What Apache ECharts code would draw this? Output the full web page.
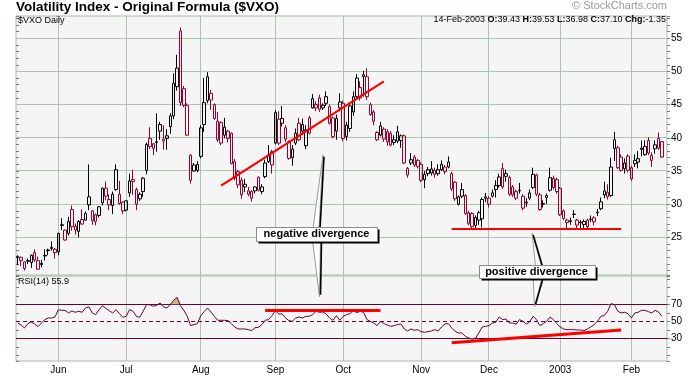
<!DOCTYPE html>
<html><head><meta charset="utf-8">
<script src="https://cdn.jsdelivr.net/npm/echarts@6/dist/echarts.min.js"></script>
<style>html,body{margin:0;padding:0;background:#fff}#c{width:700px;height:378px}</style>
</head><body><div id="c"></div>
<script>
// ---------------- DATA ----------------
const tradingDays = {
  '2002-05': [15,16,17,20,21,22,23,24,28,29,30,31],
  '2002-06': [3,4,5,6,7,10,11,12,13,14,17,18,19,20,21,24,25,26,27,28],
  '2002-07': [1,2,3,5,8,9,10,11,12,15,16,17,18,19,22,23,24,25,26,29,30,31],
  '2002-08': [1,2,5,6,7,8,9,12,13,14,15,16,19,20,21,22,23,26,27,28,29,30],
  '2002-09': [3,4,5,6,9,10,11,12,13,16,17,18,19,20,23,24,25,26,27,30],
  '2002-10': [1,2,3,4,7,8,9,10,11,14,15,16,17,18,21,22,23,24,25,28,29,30,31],
  '2002-11': [1,4,5,6,7,8,11,12,13,14,15,18,19,20,21,22,25,26,27,29],
  '2002-12': [2,3,4,5,6,9,10,11,12,13,16,17,18,19,20,23,24,26,27,30,31],
  '2003-01': [2,3,6,7,8,9,10,13,14,15,16,17,21,22,23,24,27,28,29,30,31],
  '2003-02': [3,4,5,6,7,10,11,12,13,14]
};
const monthLabels = ['Jun','Jul','Aug','Sep','Oct','Nov','Dec','2003','Feb'];

const opens = [
22.0,22.0,21.3,21.4,21.2,22.7,21.5,20.9,22.2,23.0,
23.5,23.2,22.8,26.8,26.1,25.6,29.2,26.7,25.9,27.7,
27.6,31.1,29.0,28.4,28.3,30.2,32.4,30.7,29.8,35.2,
31.5,30.3,29.1,31.7,33.7,32.2,30.8,31.9,35.1,39.9,
39.1,39.3,41.0,39.8,40.3,41.7,43.3,47.7,56.1,47.4,
44.9,37.4,35.9,36.0,37.2,42.0,45.6,46.7,45.0,42.5,
42.3,41.6,41.0,40.7,36.4,34.9,33.6,33.0,32.0,31.9,
32.0,34.05,31.9,34.15,37.4,37.9,39.2,42.8,42.9,41.5,
39.4,38.3,39.2,42.2,42.0,38.8,43.0,44.5,45.0,46.0,
44.9,46.2,44.7,43.0,41.0,45.4,45.2,40.2,41.4,43.9,
46.2,47.6,49.5,49.2,45.0,43.9,40.8,40.4,41.3,40.9,
40.7,39.7,40.9,40.3,40.3,34.4,36.2,37.1,36.6,36.0,
33.7,35.2,35.3,35.1,34.6,35.2,34.9,35.6,34.6,33.3,
30.0,32.2,31.3,28.7,28.6,28.0,27.6,27.8,31.1,30.9,
31.2,32.8,32.8,35.35,34.2,34.0,32.6,31.9,32.0,31.2,
30.2,30.9,32.5,34.4,31.4,30.0,31.0,32.1,33.9,33.7,
32.4,29.0,27.6,27.4,28.45,27.6,27.2,26.95,27.6,27.7,
27.95,28.7,29.3,31.4,31.8,31.3,38.4,38.5,37.1,35.35,
37.25,35.5,36.1,36.35,38.45,37.45,39.6,36.6,38.35,39.9,
39.43];
const highs = [
22.3,22.1,21.4,21.8,22.4,23.2,22.1,21.6,23.2,23.3,
24.4,23.4,25.7,27.9,26.2,28.1,29.8,27.1,27.6,29.2,
28.9,36.0,29.1,28.6,29.7,32.5,33.4,31.5,31.9,36.0,
33.5,30.4,30.6,34.6,35.2,32.5,31.8,34.1,39.3,41.6,
39.2,43.7,42.4,41.9,41.3,43.7,49.7,52.5,56.6,47.8,
45.2,37.5,36.2,36.5,41.9,49.0,49.9,47.2,45.2,43.9,
42.5,43.0,41.2,40.8,36.8,35.2,34.0,33.8,32.6,32.1,
32.7,34.2,33.0,36.7,38.9,38.2,44.2,44.0,44.8,41.9,
39.6,38.9,41.4,43.0,42.9,41.9,43.3,46.6,45.5,46.5,
45.2,47.0,45.0,43.2,43.5,46.7,45.6,42.4,45.3,47.0,
49.6,48.5,50.1,50.5,45.3,44.2,41.0,42.4,41.6,41.3,
41.0,40.4,41.8,40.5,40.5,35.6,37.7,37.4,36.8,36.3,
35.0,35.6,36.5,35.5,36.0,36.6,35.9,37.2,34.9,33.5,
31.3,33.2,31.5,29.0,28.8,28.3,29.0,31.0,31.7,31.2,
32.2,33.6,34.6,36.2,35.2,34.3,32.9,32.2,33.2,31.5,
30.9,32.2,35.5,34.6,31.7,30.6,31.6,35.5,34.3,34.0,
32.6,29.2,27.8,28.0,29.1,27.8,27.6,27.7,27.8,28.3,
28.2,29.3,31.0,33.4,33.0,37.0,40.9,38.8,37.5,36.9,
37.5,35.8,37.5,38.0,39.6,39.6,40.1,37.8,39.6,40.8,
39.53];
const lows = [
20.8,20.7,20.0,21.0,20.4,21.3,20.1,20.5,21.5,22.3,
23.0,21.8,22.3,26.1,24.5,25.3,26.0,25.4,25.0,26.9,
27.5,29.1,26.9,26.8,28.0,29.8,30.6,29.1,28.5,32.0,
29.9,28.5,28.9,31.1,31.4,29.1,30.5,31.1,34.5,38.3,
37.4,37.9,39.7,38.2,38.2,40.6,42.8,47.1,44.8,44.6,
40.3,33.1,34.9,34.8,36.9,40.9,45.2,44.2,42.7,39.4,
38.9,39.9,39.3,36.0,33.6,32.4,30.8,31.8,31.2,30.4,
31.6,31.9,31.5,33.9,36.2,34.6,39.0,38.9,41.7,39.4,
36.7,35.8,38.9,39.5,40.4,38.3,40.5,44.4,44.0,43.9,
44.2,44.8,42.0,39.9,39.7,44.0,39.5,39.6,40.9,43.3,
45.8,45.6,46.2,45.7,43.3,41.9,39.5,40.2,39.4,38.8,
38.7,38.9,39.2,38.5,36.0,34.0,35.9,35.6,35.4,33.3,
32.4,34.2,34.3,34.0,34.3,35.0,34.5,35.4,32.0,30.5,
29.8,30.9,28.4,26.8,26.3,26.3,26.9,26.5,30.3,29.5,
31.0,31.0,32.5,32.3,33.4,31.2,31.1,30.6,31.6,29.1,
29.6,30.6,32.3,31.2,29.0,29.5,30.0,31.9,32.2,31.6,
28.2,27.6,26.3,26.9,27.9,26.3,26.3,26.3,26.3,27.3,
26.8,28.2,29.1,30.9,30.7,31.1,36.5,35.3,34.9,34.6,
34.8,33.5,35.6,35.4,37.2,37.3,37.4,35.6,37.6,38.2,
36.98];
const closes = [
22.1,21.5,20.3,21.5,22.3,21.6,20.2,21.1,22.3,23.1,
23.3,22.7,25.6,26.9,24.6,27.4,26.6,26.1,27.4,27.0,
28.6,29.9,27.5,27.4,29.6,32.4,31.2,29.9,31.5,32.2,
30.1,29.0,30.5,33.5,33.4,30.0,31.5,33.9,39.0,38.7,
38.4,39.4,42.0,39.5,39.9,43.3,48.2,50.5,45.3,44.9,
40.4,33.6,35.0,35.1,41.5,45.3,49.2,45.7,42.9,39.7,
39.2,40.4,39.9,36.1,33.9,32.9,31.4,32.6,31.5,30.9,
32.6,32.1,32.6,36.2,36.4,35.9,43.8,39.2,42.2,39.8,
36.9,37.0,40.7,39.7,41.0,41.2,40.7,45.9,44.5,44.3,
44.5,45.2,42.2,40.2,42.9,44.5,39.9,41.9,44.8,46.2,
49.0,46.0,49.2,46.2,43.5,42.5,39.7,41.8,39.8,39.4,
38.9,39.3,39.5,39.6,36.2,35.4,36.7,35.9,35.7,33.6,
34.5,34.6,34.7,34.5,35.2,36.0,35.6,36.35,32.3,30.8,
31.1,31.2,28.6,27.05,26.6,26.8,28.7,30.7,30.9,30.0,
31.7,32.2,34.1,32.6,34.6,31.5,31.4,30.9,32.1,29.4,
30.3,31.7,34.5,31.5,29.2,30.1,31.3,34.0,32.5,31.9,
28.4,27.85,27.25,27.5,28.5,26.85,27.3,27.4,26.6,27.75,
27.35,28.8,30.35,32.0,31.1,35.6,39.7,35.5,35.1,36.2,
35.1,33.8,36.6,36.85,38.25,38.7,37.7,37.35,38.95,38.45,
37.10];
const rsi = [
48.0,45.7,42.2,47.3,49.2,46.9,43.7,48.0,52.0,53.9,
53.9,55.1,63.7,62.9,62.9,59.8,62.2,60.6,61.8,60.6,
65.7,66.9,59.8,57.8,63.7,68.4,65.3,62.5,59.8,63.7,
59.0,54.7,55.9,63.7,61.8,55.9,54.7,61.8,69.6,69.6,
67.6,68.8,71.6,66.9,65.7,69.6,74.7,78.2,68.4,62.9,
55.9,44.9,46.1,47.3,56.7,61.4,65.7,61.0,55.9,51.2,
51.2,51.2,50.8,47.3,43.3,41.0,41.0,41.0,40.2,39.0,
42.5,42.9,46.1,51.2,52.0,56.7,62.5,58.6,58.6,53.9,
50.8,50.0,53.9,55.1,53.9,55.9,55.9,57.8,61.8,60.6,
61.0,58.6,53.9,51.2,56.7,51.2,55.9,57.8,59.0,62.9,
60.2,61.8,60.6,52.0,50.0,48.0,44.9,50.0,47.3,45.7,
44.1,44.9,46.1,46.9,41.0,38.6,41.0,39.4,40.2,37.8,
37.1,37.8,38.6,40.2,38.6,43.3,46.9,47.3,42.2,38.2,
36.3,36.3,32.4,30.4,28.8,30.0,36.3,43.3,44.1,44.9,
48.0,48.8,55.1,52.0,52.7,48.0,48.0,46.5,52.0,50.0,
46.9,49.2,55.9,52.0,44.9,47.3,50.0,55.1,52.0,47.3,
43.3,41.0,40.2,40.2,40.2,39.8,39.8,39.0,41.0,43.3,
46.1,50.0,55.9,56.7,61.8,70.8,69.6,61.8,59.8,60.6,
59.0,53.9,59.8,60.6,62.9,62.9,61.4,59.8,62.9,61.0,
55.9];

const priceGridValues = [25,30,35,40,45,50,55];
const priceLabelValues = [25,30,35,40,45,50,55];
const rsiLevels = [30,50,70];
const rsiLabelValues = [30,50,70];
const rsiOverbought = 70, rsiOversold = 30;

// annotations (data coordinates: [day index, value])
const trendLine = [[60,32.8],[108,48.5]];
const supportLine = [[128,26.3],[178,26.3]];
const rsiNegLine = [[73,62.9],[107,62.9]];
const rsiPosLine = [[128,24.8],[178,39.8]];
const negCalloutAt = [88, 25.6];
const posCalloutAt = [153, 19.9];
const headerDate = '14-Feb-2003';

// ---------------- BUILD ----------------
const FONT = '"Liberation Sans", Arial, Helvetica, sans-serif';
const GRID_COLOR = '#abc6ab';
const BORDER = '#9fbd9f';
const PLOT_BG = '#f5f5f5';
const RED = '#990033';
const BLACK = '#000000';
const RSI_COLOR = '#660033';
const TICK = '#7a7a7a';

const categories = [];
const monthStarts = [];
Object.keys(tradingDays).forEach((m, k) => {
  tradingDays[m].forEach((d, j) => {
    if (j === 0 && k > 0) monthStarts.push(categories.length);
    categories.push(m + '-' + String(d).padStart(2, '0'));
  });
});
categories.push('');  // empty slot after last bar
const labelAt = {};
monthStarts.forEach((idx, k) => { labelAt[idx] = monthLabels[k]; });

const candleData = opens.map((o, i) => {
  const c = closes[i];
  const prev = i > 0 ? closes[i - 1] : c;
  const col = c >= prev ? BLACK : RED;
  return { value: [o, c, lows[i], highs[i]],
    itemStyle: { color: 'rgba(0,0,0,0)', color0: col, borderColor: col, borderColor0: col, borderWidth: 1 } };
});

const PRICE_MIN = 19.33, PRICE_MAX = 58.35;
const RSI_MIN = 3.3, RSI_MAX = 103.3;

function vLines(xi, yi, yv) {
  return { type: 'custom', xAxisIndex: xi, yAxisIndex: yi, silent: true, z: 1,
    data: monthStarts.map(i => [i, yv]), encode: { x: 0, y: 1 },
    renderItem: (params, api) => {
      const cs = params.coordSys;
      const x = Math.round(api.coord([api.value(0), api.value(1)])[0] - 0.5) + 0.5;
      return { type: 'line', shape: { x1: x, y1: cs.y, x2: x, y2: cs.y + cs.height },
        style: { stroke: GRID_COLOR, lineWidth: 1 } };
    } };
}
function hLines(xi, yi, values, styler) {
  return { type: 'custom', xAxisIndex: xi, yAxisIndex: yi, silent: true, z: 1,
    data: values.map(v => [0, v]), encode: { x: 0, y: 1 },
    renderItem: (params, api) => {
      const cs = params.coordSys;
      const y = Math.round(api.coord([0, api.value(1)])[1] - 0.5) + 0.5;
      return { type: 'line', shape: { x1: cs.x, y1: y, x2: cs.x + cs.width, y2: y },
        style: styler(api.value(1)) };
    } };
}

const valueAxisBase = { type: 'value', axisLine: { show: false }, splitLine: { show: false } };

const option = {
  animation: false,
  backgroundColor: '#ffffff',
  grid: [
    { left: 16, right: 33, top: 16, height: 259, show: true, backgroundColor: PLOT_BG,
      borderColor: BORDER, borderWidth: 1, containLabel: false, outerBoundsMode: 'none' },
    { left: 16, right: 33, top: 276, height: 85, show: true, backgroundColor: PLOT_BG,
      borderColor: BORDER, borderWidth: 1, containLabel: false, outerBoundsMode: 'none' }
  ],
  xAxis: [
    { type: 'category', gridIndex: 0, data: categories, boundaryGap: true,
      axisLine: { show: false }, axisTick: { show: false }, axisLabel: { show: false }, splitLine: { show: false } },
    { type: 'category', gridIndex: 1, data: categories, boundaryGap: true,
      axisLine: { show: false }, axisTick: { show: false }, splitLine: { show: false },
      axisLabel: { show: true, interval: (idx) => labelAt[idx] !== undefined,
        formatter: (val, idx) => labelAt[idx] || '', fontSize: 10, fontFamily: FONT, color: '#000', margin: 4 } }
  ],
  yAxis: [
    Object.assign({}, valueAxisBase, { gridIndex: 0, position: 'right', min: PRICE_MIN, max: PRICE_MAX,
      minInterval: 1, maxInterval: 1,
      axisTick: { show: true, length: 3, lineStyle: { color: TICK } },
      axisLabel: { show: true, margin: 4, fontSize: 10, fontFamily: FONT, color: '#000',
        formatter: v => priceLabelValues.indexOf(v) >= 0 ? String(v) : '' } }),
    Object.assign({}, valueAxisBase, { gridIndex: 0, position: 'left', min: PRICE_MIN, max: PRICE_MAX,
      minInterval: 1, maxInterval: 1,
      axisTick: { show: true, inside: true, length: 3, lineStyle: { color: TICK } },
      axisLabel: { show: false } }),
    Object.assign({}, valueAxisBase, { gridIndex: 1, position: 'right', min: RSI_MIN, max: RSI_MAX,
      minInterval: 10, maxInterval: 10,
      axisTick: { show: true, length: 3, lineStyle: { color: TICK } },
      axisLabel: { show: true, margin: 4, fontSize: 10, fontFamily: FONT, color: '#000',
        formatter: v => rsiLabelValues.indexOf(v) >= 0 ? String(v) : '' } }),
    Object.assign({}, valueAxisBase, { gridIndex: 1, position: 'left', min: RSI_MIN, max: RSI_MAX,
      minInterval: 10, maxInterval: 10,
      axisTick: { show: true, inside: true, length: 3, lineStyle: { color: TICK } },
      axisLabel: { show: false } })
  ],
  series: [
    vLines(0, 0, 30),
    hLines(0, 0, priceGridValues, () => ({ stroke: GRID_COLOR, lineWidth: 1 })),
    { type: 'candlestick', xAxisIndex: 0, yAxisIndex: 0, data: candleData, barWidth: 3, z: 3,
      markLine: { silent: true, symbol: ['none', 'none'], label: { show: false },
        lineStyle: { color: '#ff0000', width: 2.2, type: 'solid' },
        data: [
          [{ coord: trendLine[0] }, { coord: trendLine[1] }],
          [{ coord: supportLine[0] }, { coord: supportLine[1] }]
        ] } },
    vLines(1, 2, 50),
    hLines(1, 2, rsiLevels, v => ({ stroke: RSI_COLOR, lineWidth: 1, lineDash: v === 50 ? [4, 3] : null })),
    { type: 'line', xAxisIndex: 1, yAxisIndex: 2, z: 2, silent: true, symbol: 'none',
      data: rsi.map(v => Math.max(v, rsiOverbought)),
      lineStyle: { width: 0, opacity: 0 }, areaStyle: { color: '#c9b98e', opacity: 1, origin: rsiOverbought } },
    { type: 'line', xAxisIndex: 1, yAxisIndex: 2, z: 2, silent: true, symbol: 'none',
      data: rsi.map(v => Math.min(v, rsiOversold)),
      lineStyle: { width: 0, opacity: 0 }, areaStyle: { color: '#c9b98e', opacity: 1, origin: rsiOversold } },
    { type: 'line', xAxisIndex: 1, yAxisIndex: 2, z: 4, silent: true, symbol: 'none', data: rsi,
      lineStyle: { color: RSI_COLOR, width: 1 },
      markLine: { silent: true, symbol: ['none', 'none'], label: { show: false },
        lineStyle: { color: '#ff0000', width: 3, type: 'solid' },
        data: [
          [{ coord: rsiNegLine[0] }, { coord: rsiNegLine[1] }],
          [{ coord: rsiPosLine[0] }, { coord: rsiPosLine[1] }]
        ] } }
  ]
};

const chart = echarts.init(document.getElementById('c'), null, { renderer: 'canvas' });
chart.setOption(option);

// ---------------- TEXTS & CALLOUTS ----------------
const n = closes.length - 1;
const f2 = v => v.toFixed(2);
const chg = closes[n] - closes[n - 1];
const headerText = '{n|' + headerDate + ' }{b|O:}{n|' + f2(opens[n]) + ' }{b|H:}{n|' + f2(highs[n]) +
  ' }{b|L:}{n|' + f2(lows[n]) + ' }{b|C:}{n|' + f2(closes[n]) + ' }{b|Chg:}{n|' + f2(chg) + '}';

const Z = 50;
const els = [
  { type: 'text', left: 16, top: 0, z: Z, style: { text: 'Volatility Index - Original Formula ($VXO)',
      font: 'bold 13.5px ' + FONT, fill: '#000' } },
  { type: 'text', right: 33, top: 0, z: Z, style: { text: '\u00a9 StockCharts.com', font: '11px ' + FONT, fill: '#999999' } },
  { type: 'text', right: 34, top: 15, z: Z, style: { text: headerText,
      rich: { n: { fontSize: 9, fontFamily: FONT, fill: '#000' }, b: { fontSize: 9, fontFamily: FONT, fontWeight: 'bold', fill: '#000' } } } },
  { type: 'text', left: 18, top: 16, z: Z, style: { text: '$VXO Daily', font: '9px ' + FONT, fill: '#000' } },
  { type: 'text', left: 18, top: 277, z: Z, style: { text: 'RSI(14) ' + rsi[n].toFixed(1), font: '9px ' + FONT, fill: '#000' } }
];

function callout(at, text, w, h, top, bottom) {
  const p = chart.convertToPixel({ xAxisIndex: 0, yAxisIndex: 0 }, at);
  const cx = Math.round(p[0]) + 0.5, cy = Math.round(p[1]) + 0.5;
  const x0 = Math.round(cx - w / 2) + 0.5, y0 = Math.round(cy - h / 2) + 0.5;
  const yT = y0, yB = y0 + h;
  const wedge = (yBase, bl, br, tip, dir) => {
    const tx = cx + tip[0], ty = cy + tip[1];
    els.push({ type: 'polygon', z: Z, shape: { points: [[cx + bl, yBase], [tx, ty], [cx + br, yBase]] },
      style: { fill: '#ffffff', stroke: '#9a9a9a', lineWidth: 1 } });
    els.push({ type: 'line', z: Z, shape: { x1: cx + br + 1, y1: yBase, x2: tx + 1, y2: ty - dir * 2 },
      style: { stroke: '#000', lineWidth: 1.6 } });
  };
  wedge(yT + 1, top.base[0], top.base[1], top.tip, -1);
  wedge(yB - 1, bottom.base[0], bottom.base[1], bottom.tip, 1);
  els.push({ type: 'rect', z: Z, shape: { x: x0 + 2, y: y0 + 2, width: w, height: h }, style: { fill: '#000' } });
  els.push({ type: 'rect', z: Z + 1, shape: { x: x0, y: y0, width: w, height: h }, style: { fill: '#fff', stroke: '#8a8a8a', lineWidth: 1 } });
  els.push({ type: 'text', z: Z + 2, x: cx, y: cy + 0.5, style: { text: text, align: 'center', verticalAlign: 'middle',
      font: 'bold 11px ' + FONT, fill: '#000' } });
}
callout(negCalloutAt, 'negative divergence', 121, 14,
  { base: [-3.5, 2.5], tip: [6.5, -78.7] }, { base: [-4, 4], tip: [3, 63.3] });
callout(posCalloutAt, 'positive divergence', 116, 13,
  { base: [-1, 5], tip: [-4.3, -38.4] }, { base: [-3.3, 5.7], tip: [-2, 35] });

chart.setOption({ graphic: { elements: els } });
</script>
</body></html>
